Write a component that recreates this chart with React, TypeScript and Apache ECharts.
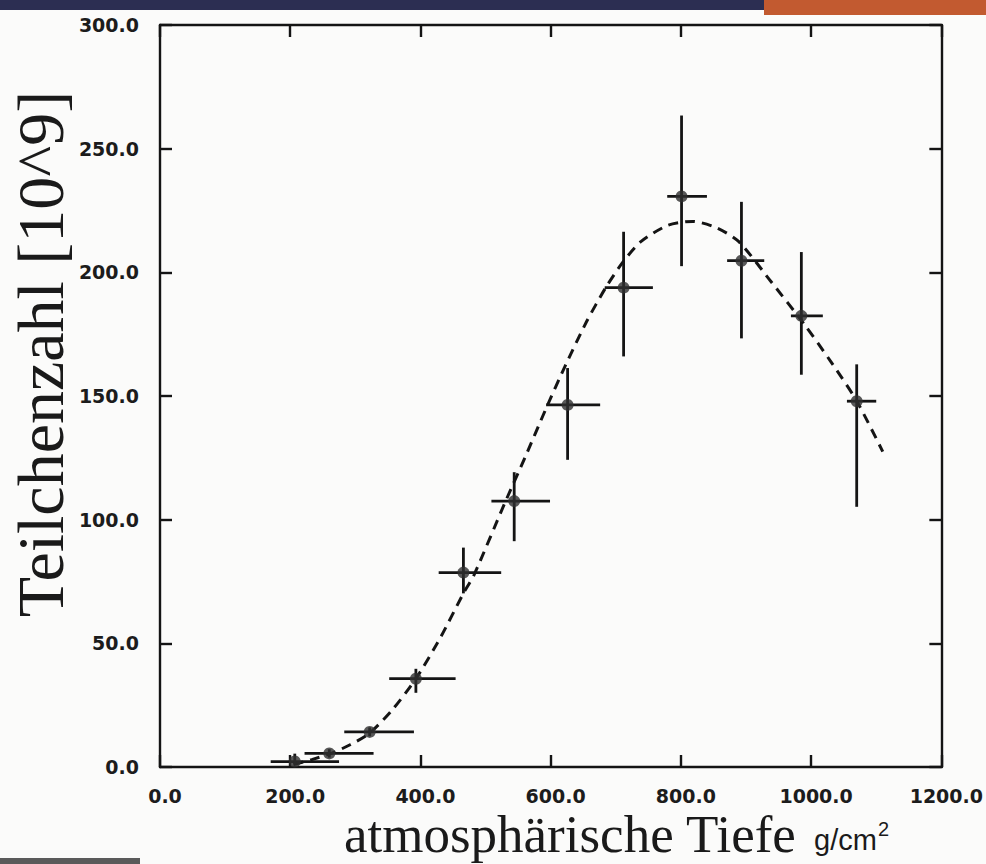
import React, { useEffect, useRef } from "react";
import * as echarts from "echarts";

// Measured points: atmospheric depth (g/cm^2) and particle number (10^9)
const depth = [207, 260, 322, 393, 466, 544, 626, 712, 801, 893, 985, 1070];
const depthLow = [170, 222, 283, 352, 428, 509, 593, 683, 779, 871, 969, 1055];
const depthHigh = [275, 328, 390, 454, 524, 599, 676, 757, 840, 928, 1018, 1100];
const count = [2.2, 5.5, 14.2, 35.7, 78.6, 107.5, 146.4, 193.8, 230.7, 204.7, 182.4, 147.9];
const countLow = [1.0, 3.8, 12.4, 30.0, 70.2, 91.3, 124.2, 166.0, 202.5, 173.3, 158.6, 105.2];
const countHigh = [5.4, 7.2, 16.0, 39.7, 88.7, 119.2, 161.3, 216.4, 263.4, 228.5, 208.2, 162.8];

// Dashed fit curve
const fitDepth = [205, 233, 263, 292, 322, 358, 393, 430, 466, 482, 530, 562, 593, 622, 655, 685, 712, 739, 780, 818, 855, 889, 938, 990, 1030, 1070, 1110];
const fitCount = [1.0, 3.0, 5.5, 9.0, 13.7, 23.5, 35.7, 52.0, 70.2, 77.5, 107.0, 126.0, 145.0, 162.0, 180.0, 194.0, 204.5, 212.5, 219.0, 220.6, 218.0, 212.4, 196.4, 178.8, 164.0, 148.0, 127.5];

const xAxisName = "atmosphärische Tiefe";
const xAxisUnit = "g/cm";
const xAxisUnitPower = "2";
const yAxisName = "Teilchenzahl [10^9]";

const INK = "#141414";

export default function App() {
  const ref = useRef<HTMLDivElement>(null);

  useEffect(() => {
    if (!ref.current) return;
    const chart = echarts.init(ref.current, null, { renderer: "svg" });

    const errData = depth.map((d, i) => [d, count[i], depthLow[i], depthHigh[i], countLow[i], countHigh[i]]);
    const pointData = depth.map((d, i) => [d, count[i]]);
    const fitData = fitDepth.map((d, i) => [d, fitCount[i]]);

    const tickLabel = {
      fontFamily: "DejaVu Sans",
      fontWeight: "bold" as const,
      fontSize: 19,
      color: "#1c1c1c",
    };
    const axisLine = { show: true, onZero: false, lineStyle: { color: INK, width: 2.4 } };
    const axisTick = { show: true, inside: true, length: 12, lineStyle: { color: INK, width: 2.4 } };

    chart.setOption({
      animation: false,
      backgroundColor: "#fbfbfa",
      grid: { left: 160, right: 19, top: 25, bottom: 97, containLabel: false },
      xAxis: [
        {
          type: "value",
          position: "bottom",
          min: 0,
          max: 1200,
          interval: 200,
          axisLine,
          axisTick,
          splitLine: { show: false },
          axisLabel: {
            ...tickLabel,
            margin: 19,
            padding: [0, 0, 0, 10],
            formatter: (v: number) => v.toFixed(1),
          },
        },
        {
          type: "value",
          position: "top",
          min: 0,
          max: 1200,
          interval: 200,
          axisLine,
          axisTick,
          splitLine: { show: false },
          axisLabel: { show: false },
        },
      ],
      yAxis: [
        {
          type: "value",
          position: "left",
          min: 0,
          max: 300,
          interval: 50,
          axisLine,
          axisTick,
          splitLine: { show: false },
          axisLabel: {
            ...tickLabel,
            margin: 21,
            formatter: (v: number) => v.toFixed(1),
          },
        },
        {
          type: "value",
          position: "right",
          min: 0,
          max: 300,
          interval: 50,
          axisLine,
          axisTick,
          splitLine: { show: false },
          axisLabel: { show: false },
        },
      ],
      graphic: [
        { type: "rect", left: 0, top: 0, shape: { width: 764, height: 10 }, style: { fill: "#2c2e52" }, silent: true },
        { type: "rect", left: 764, top: 0, shape: { width: 222, height: 15 }, style: { fill: "#c25a30" }, silent: true },
        { type: "rect", left: 0, top: 858, shape: { width: 140, height: 6 }, style: { fill: "#5a5a5a" }, silent: true },
        {
          type: "text",
          x: 40,
          y: 354,
          rotation: Math.PI / 2,
          style: {
            text: yAxisName,
            font: "66px 'Liberation Serif'",
            fill: "#1a1a1a",
            align: "center",
            verticalAlign: "middle",
          },
        },
        {
          type: "text",
          x: 344,
          y: 834,
          style: {
            text: xAxisName,
            font: "53px 'Liberation Serif'",
            fill: "#1a1a1a",
            align: "left",
            verticalAlign: "middle",
          },
        },
        {
          type: "text",
          x: 814,
          y: 840,
          style: {
            text: xAxisUnit,
            font: "29px 'Liberation Sans'",
            fill: "#1a1a1a",
            align: "left",
            verticalAlign: "middle",
          },
        },
        {
          type: "text",
          x: 878,
          y: 829,
          style: {
            text: xAxisUnitPower,
            font: "20px 'Liberation Sans'",
            fill: "#1a1a1a",
            align: "left",
            verticalAlign: "middle",
          },
        },
      ],
      series: [
        {
          type: "line",
          name: "Fit",
          data: fitData,
          smooth: 0.25,
          showSymbol: false,
          xAxisIndex: 0,
          yAxisIndex: 0,
          lineStyle: { color: INK, width: 3, type: [10, 7] },
          z: 2,
        },
        {
          type: "custom",
          name: "Fehler",
          xAxisIndex: 0,
          yAxisIndex: 0,
          data: errData,
          z: 3,
          renderItem: (_params: any, api: any) => {
            const x = api.value(0);
            const y = api.value(1);
            const a = api.coord([api.value(2), y]);
            const b = api.coord([api.value(3), y]);
            const c = api.coord([x, api.value(4)]);
            const d = api.coord([x, api.value(5)]);
            const style = { stroke: INK, lineWidth: 2.8 };
            return {
              type: "group",
              children: [
                { type: "line", shape: { x1: a[0], y1: a[1], x2: b[0], y2: b[1] }, style },
                { type: "line", shape: { x1: c[0], y1: c[1], x2: d[0], y2: d[1] }, style },
              ],
            };
          },
        },
        {
          type: "scatter",
          name: "Messung",
          data: pointData,
          xAxisIndex: 0,
          yAxisIndex: 0,
          symbol: "circle",
          symbolSize: 12,
          itemStyle: { color: "#2f2f2f" },
          z: 4,
        },
      ],
    });

    return () => chart.dispose();
  }, []);

  return (
    <div
      ref={ref}
      style={{ position: "fixed", left: 0, top: 0, width: 986, height: 864 }}
    />
  );
}
